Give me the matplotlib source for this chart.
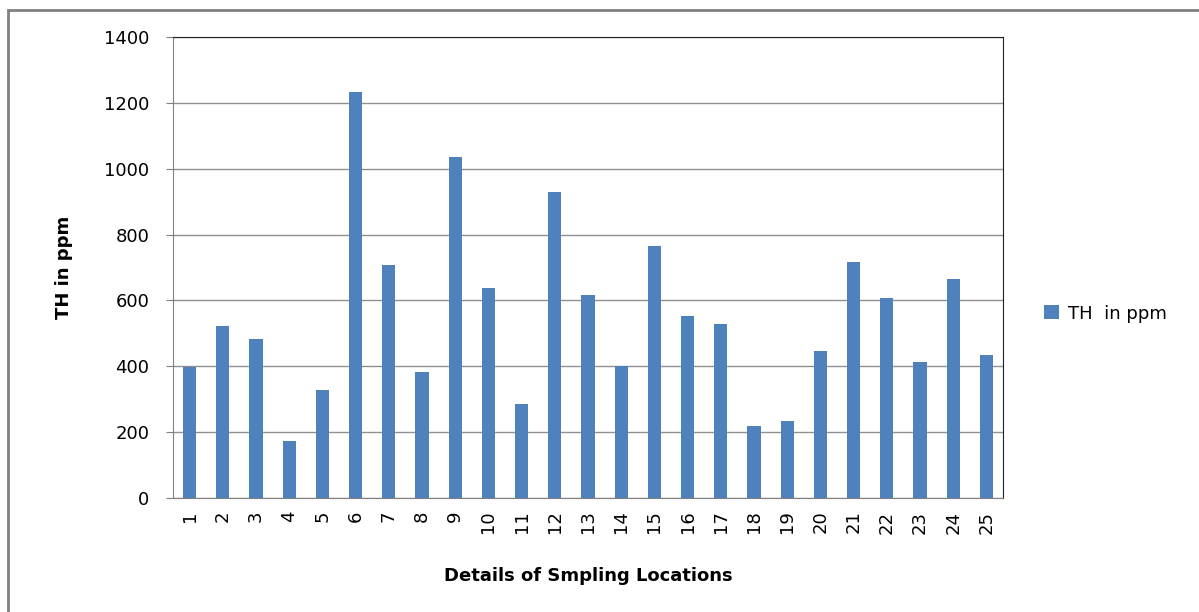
import matplotlib.pyplot as plt
from matplotlib.patches import Rectangle

# sampling locations and total hardness values
locations = [str(i) for i in range(1, 26)]
th_ppm = [398, 522, 483, 173, 328, 1233, 708, 383, 1036, 638,
          285, 929, 616, 400, 765, 553, 528, 219, 234, 446,
          717, 607, 413, 665, 434]
y_ticks = [0, 200, 400, 600, 800, 1000, 1200, 1400]

bar_color = "#4f81bd"

fig = plt.figure(figsize=(11.99, 6.12), dpi=100)
ax = fig.add_axes([173 / 1199, 1 - 498 / 612, 830 / 1199, 461 / 612])

x = list(range(len(locations)))
ax.bar(x, th_ppm, width=0.4, color=bar_color, label="TH  in ppm", zorder=3)

ax.set_xlim(-0.5, len(locations) - 0.5)
ax.set_ylim(0, 1400)
ax.set_yticks(y_ticks)
ax.set_yticklabels([str(v) for v in y_ticks], fontsize=13)
ax.set_xticks(x)
ax.set_xticklabels(locations, rotation=90, fontsize=13)
ax.tick_params(axis="x", length=0, pad=9)
ax.tick_params(axis="y", length=5, color="#808080", pad=12)
ax.grid(axis="y", color="#909090", linewidth=1, zorder=0)

for side in ["left", "bottom"]:
    ax.spines[side].set_color("#808080")
for side in ["top", "right"]:
    ax.spines[side].set_color("#222222")

ax.set_ylabel("TH in ppm", fontsize=13, fontweight="bold", labelpad=22)
ax.set_xlabel("Details of Smpling Locations", fontsize=13, fontweight="bold", labelpad=24)

ax.legend(loc="center left", bbox_to_anchor=(1.03, 0.4), frameon=False,
          fontsize=13, handlelength=0.8, handleheight=0.8, handletextpad=0.5)

# outer chart border (partly cropped in the original)
fig.patches.append(Rectangle((8 / 1199, -0.1), 1.2, 1 - 10 / 612 + 0.1,
                             transform=fig.transFigure, fill=False,
                             edgecolor="#808080", linewidth=2))

fig.savefig("out.png", dpi=100)
